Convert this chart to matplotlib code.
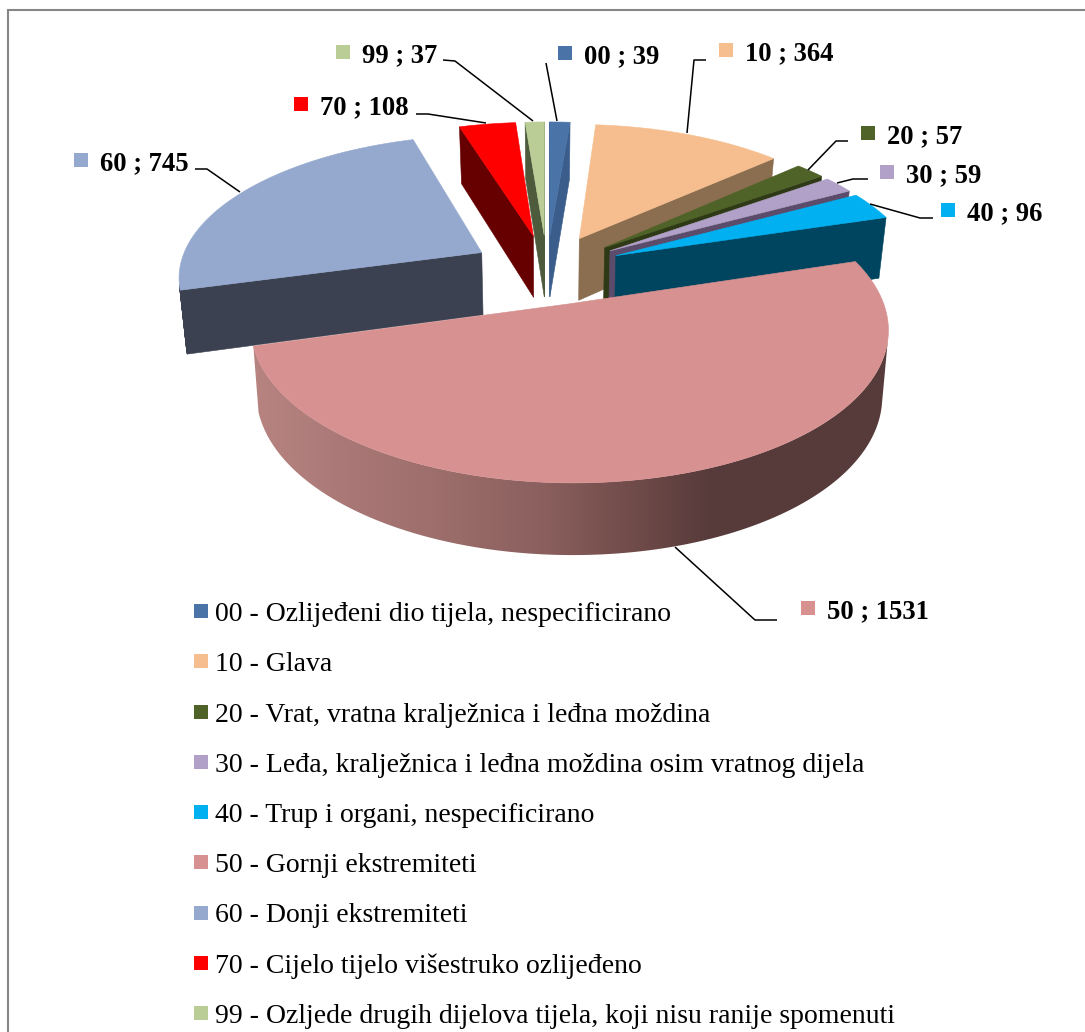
#!/usr/bin/env python3

"""3D exploded pie of injured body parts, drawn from the counts with a small perspective projection"""

import numpy as np
import matplotlib
matplotlib.use('Agg')
import matplotlib.pyplot as plt
from matplotlib.patches import Polygon, Rectangle

codes = ['00', '10', '20', '30', '40', '50', '60', '70', '99']
counts = [39, 364, 57, 59, 96, 1531, 745, 108, 37]
names = ['00 - Ozlijeđeni dio tijela, nespecificirano',
         '10 - Glava',
         '20 - Vrat, vratna kralježnica i leđna moždina',
         '30 - Leđa, kralježnica i leđna moždina osim vratnog dijela',
         '40 - Trup i organi, nespecificirano',
         '50 - Gornji ekstremiteti',
         '60 - Donji ekstremiteti',
         '70 - Cijelo tijelo višestruko ozlijeđeno',
         '99 - Ozljede drugih dijelova tijela, koji nisu ranije spomenuti']

top_colors = ['#4A74A8', '#F6BE8E', '#4F6228', '#B1A0C7', '#00B0F0', '#D69190', '#95A9CF', '#FF0000', '#BBCD97']
wall_colors = ['#3A5D8C', '#8B6D4F', '#2E3A15', '#5C4C6B', '#00455F', '#5A3A3A', '#3B4150', '#660000', '#4D5A3B']

# label text position (left, baseline) and leader line
label_text = [(584, 63), (745, 60), (887, 143), (906, 182), (967, 220), (827, 618), (100, 170), (320, 114), (362, 62)]
leaders = [
    [(546, 63), (557, 121)],
    [(706, 60), (694, 60), (687, 133)],
    [(848, 141), (836, 141), (808, 170)],
    [(868, 179), (853, 179), (837, 183)],
    [(933, 218), (920, 218), (870, 204)],
    [(777, 620), (755, 620), (675, 547)],
    [(195, 169), (207, 169), (240, 192)],
    [(416, 114), (428, 114), (486, 123)],
    [(443, 60), (455, 61), (533, 121)],
]

EXPLODE = 0.25
DEPTH_ORDER = [8, 0, 7, 1, 2, 3, 4, 6, 5]

rim_x = [250, 450, 545, 640, 710, 890]
rim_rgb = np.array([[184, 132, 130], [154, 108, 106], [138, 95, 93], [110, 74, 72], [87, 59, 59], [87, 59, 59]]) / 255


def project(u, v, bottom=False):
    # pie plane coordinates to image pixels, the lower face is further from the viewer
    u = np.asarray(u, dtype=float)
    v = np.asarray(v, dtype=float)
    if bottom:
        return 547 + 297 * u / (1 + 0.158 * v), 332 - 146 * v / (1 + 0.152 * v)
    return 547 + 303 * u / (1 + 0.154 * v), 269 - 140 * v / (1 + 0.152 * v)


def shoelace(xs, ys):
    return np.sum(xs * np.roll(ys, -1) - np.roll(xs, -1) * ys)


def draw_gradient_rim(ax, tx, ty, bx, by):
    clip = Polygon(np.r_[np.c_[tx, ty], np.c_[bx, by][::-1]], transform=ax.transData)
    xs = np.arange(int(min(tx.min(), bx.min())) - 2, int(max(tx.max(), bx.max())) + 3)
    img = np.stack([np.interp(xs, rim_x, rim_rgb[:, i]) for i in range(3)], axis=-1)[np.newaxis, :, :]
    im = ax.imshow(img, extent=[xs[0], xs[-1], by.max() + 2, min(ty.min(), by.min()) - 2],
                   aspect='auto', interpolation='bilinear', zorder=2)
    im.set_clip_path(clip)


def draw_slice(ax, start, end, top_color, wall_color, smooth_rim):
    mid = np.radians((start + end) / 2)
    ou, ov = EXPLODE * np.sin(mid), EXPLODE * np.cos(mid)
    th = np.radians(np.linspace(start, end, max(int(end - start) * 2, 4)))
    u, v = ou + np.sin(th), ov + np.cos(th)
    tx, ty = project(u, v)
    bx, by = project(u, v, bottom=True)
    atx, aty = project(ou, ov)
    abx, aby = project(ou, ov, bottom=True)

    # start wall, end wall, culled by which way they face on screen
    for idx, sign in ((0, -1), (-1, 1)):
        xs = np.array([atx, tx[idx], bx[idx], abx])
        ys = np.array([aty, ty[idx], by[idx], aby])
        if shoelace(xs, ys) * sign > 0:
            ax.add_patch(Polygon(np.c_[xs, ys], fc=wall_color, ec=wall_color, lw=0.4, zorder=2))

    facing = []
    for i in range(len(th) - 1):
        xs = np.array([tx[i], tx[i + 1], bx[i + 1], bx[i]])
        ys = np.array([ty[i], ty[i + 1], by[i + 1], by[i]])
        if shoelace(xs, ys) < 0:
            facing.append(i)
            if not smooth_rim:
                ax.add_patch(Polygon(np.c_[xs, ys], fc=wall_color, ec=wall_color, lw=0.6, zorder=2))
    if smooth_rim and facing:
        # only the part that faces the viewer, so the outline runs straight between the two faces
        a, b = facing[0], facing[-1] + 2
        draw_gradient_rim(ax, tx[a:b], ty[a:b], bx[a:b], by[a:b])

    ax.add_patch(Polygon(np.r_[[[atx, aty]], np.c_[tx, ty]], fc=top_color, ec=top_color, lw=0.4, zorder=2))


def main():
    plt.rcParams['font.family'] = ['Liberation Serif', 'DejaVu Serif']
    fig = plt.figure(figsize=(10.85, 10.32), dpi=100)
    ax = fig.add_axes([0, 0, 1, 1])
    ax.axis('off')

    ax.add_patch(Rectangle((8, 10), 1200, 1200, fc='white', ec='#868686', lw=1.5))

    edges = np.r_[0, np.cumsum(counts)] / np.sum(counts) * 360
    for i in DEPTH_ORDER:
        draw_slice(ax, edges[i], edges[i + 1], top_colors[i], wall_colors[i], codes[i] == '50')

    for i, code in enumerate(codes):
        tx, ty = label_text[i]
        ax.add_patch(Rectangle((tx - 26, ty - 17), 14, 14, fc=top_colors[i], ec='none', zorder=4))
        ax.text(tx, ty, f'{code} ; {counts[i]}', fontsize=19.2, fontweight='bold', va='baseline', ha='left', zorder=5)
        xs, ys = zip(*leaders[i])
        ax.plot(xs, ys, color='black', lw=1.1, zorder=3, solid_capstyle='butt')

    for i, name in enumerate(names):
        y = 611 + i * 50.25
        ax.add_patch(Rectangle((194, y - 7), 14, 14, fc=top_colors[i], ec='none', zorder=4))
        ax.text(215, y + 10, name, fontsize=20, va='baseline', ha='left', zorder=5)

    ax.set_xlim(0, 1085)
    ax.set_ylim(1032, 0)
    fig.savefig('out.png', dpi=100)


if __name__ == '__main__':
    main()
